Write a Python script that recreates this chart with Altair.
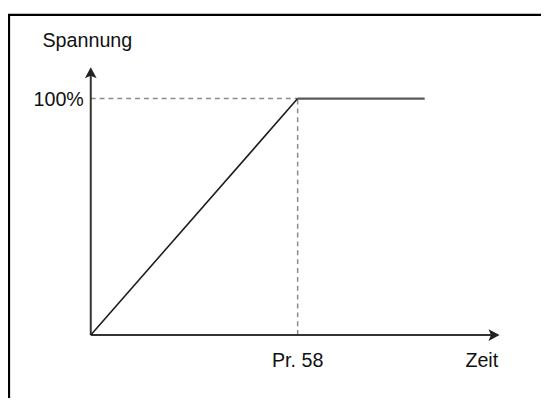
import altair as alt
import pandas as pd

# ---- data (chart units: x = time with Pr. 58 = 1, y = voltage in %) ----
ramp_t = [0.0, 1.0]
ramp_v = [0, 100]
hold_t = [1.0, 1.614]
hold_v = [100, 100]

guide_x = [0.0, 1.0]      # dashed guides: horizontal at 100 %, vertical at Pr. 58
guide_y = [0, 100]

axis_x_end = 1.95
axis_y_end = 110
arrow_x_tip = 1.976
arrow_y_tip = 113.3

y_label = "Spannung"
x_label = "Zeit"
y_tick = "100%"
x_tick = "Pr. 58"

X_DOM = [-0.4, 2.17619]
Y_DOM = [-26.667, 137.083]

FONT = "Liberation Sans"
FS = 20


def xs(field):
    return alt.X(field, type="quantitative",
                 scale=alt.Scale(domain=X_DOM, nice=False, zero=False), axis=None)


def ys(field):
    return alt.Y(field, type="quantitative",
                 scale=alt.Scale(domain=Y_DOM, nice=False, zero=False), axis=None)


def seg(x, x2, y, y2, color, width, dash=None):
    df = pd.DataFrame({"x": [x], "x2": [x2], "y": [y], "y2": [y2]})
    kw = dict(color=color, strokeWidth=width)
    if dash:
        kw["strokeDash"] = dash
    return alt.Chart(df).mark_rule(**kw).encode(
        x=xs("x"), x2="x2", y=ys("y"), y2="y2")


# frame (top and left edges visible)
frame_top = seg(X_DOM[0], X_DOM[1], 135.42, 135.42, "black", 2.2)
frame_left = seg(-0.395, -0.395, Y_DOM[0], 135.42, "black", 2.2)

# dashed guides
dash_h = seg(guide_x[0], guide_x[1], guide_y[1], guide_y[1], "#8a8a8a", 1.5, [5, 4])
dash_v = seg(guide_x[1], guide_x[1], guide_y[0], guide_y[1], "#8a8a8a", 1.5, [5, 4])

# axes
axis_x = seg(0, axis_x_end, 0, 0, "#333333", 2)
axis_y = seg(0, 0, 0, axis_y_end, "#333333", 2)

# arrow heads
up_path = "M0,0L0.75,1.4L0,1.1L-0.75,1.4Z"
right_path = "M0,0L-1.4,-0.75L-1.1,0L-1.4,0.75Z"
arrow_up = alt.Chart(pd.DataFrame({"x": [0.0], "y": [arrow_y_tip]})).mark_point(
    shape=up_path, size=256, filled=True, color="#222222", opacity=1, strokeWidth=0
).encode(x=xs("x"), y=ys("y"))
arrow_right = alt.Chart(pd.DataFrame({"x": [arrow_x_tip], "y": [0.0]})).mark_point(
    shape=right_path, size=256, filled=True, color="#222222", opacity=1, strokeWidth=0
).encode(x=xs("x"), y=ys("y"))

# voltage curve
ramp = alt.Chart(pd.DataFrame({"t": ramp_t, "v": ramp_v})).mark_line(
    color="#1a1a1a", strokeWidth=1.6
).encode(x=xs("t"), y=ys("v"))
hold = alt.Chart(pd.DataFrame({"t": hold_t, "v": hold_v})).mark_line(
    color="#5a5a5a", strokeWidth=2.4
).encode(x=xs("t"), y=ys("v"))


def label(text, x, y, align, baseline="alphabetic"):
    return alt.Chart(pd.DataFrame({"x": [x], "y": [y], "t": [text]})).mark_text(
        font=FONT, fontSize=FS, color="#111111", align=align, baseline=baseline
    ).encode(x=xs("x"), y=ys("y"), text="t:N")


lbl_y = label(y_label, -0.2333, 121.9, "left")
lbl_100 = label(y_tick, -0.0333, 99.4, "right", "middle")
lbl_pr = label(x_tick, 1.0, -13.33, "center")
lbl_zeit = label(x_label, 1.890, -13.33, "center")

chart = alt.layer(
    frame_top, frame_left, dash_h, dash_v, axis_x, axis_y,
    ramp, hold, arrow_up, arrow_right,
    lbl_y, lbl_100, lbl_pr, lbl_zeit
).properties(
    width=541, height=393,
    autosize=alt.AutoSizeParams(type="none"),
    padding=0,
    background="white",
).configure_view(stroke=None)

chart.save("out.html", embed_options={"renderer": "svg", "actions": False})
